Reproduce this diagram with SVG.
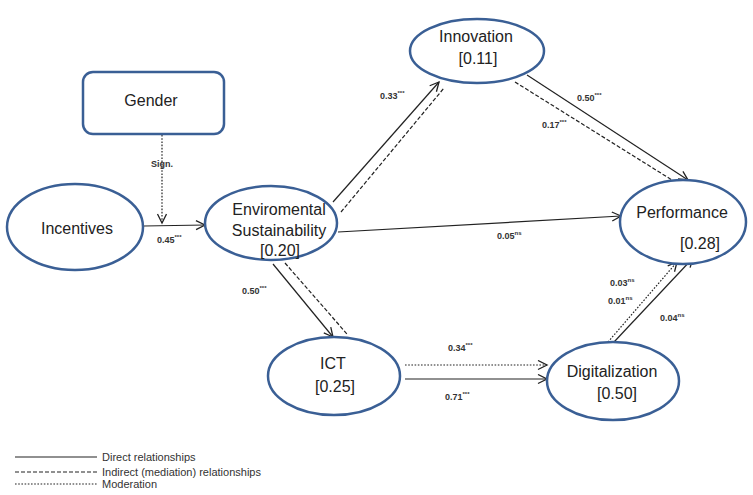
<svg xmlns="http://www.w3.org/2000/svg" width="753" height="495" viewBox="0 0 753 495">
<defs>
<marker id="arr" markerWidth="12" markerHeight="12" refX="10" refY="5" orient="auto" markerUnits="userSpaceOnUse">
<path d="M1,0.5 L10,5 L1,9.5" fill="none" stroke="#222" stroke-width="1.3"/>
</marker>
</defs>
<style>
.node{fill:#fff;stroke:#3a5f95;stroke-width:2.5}
.nt{font-family:"Liberation Sans",Arial,sans-serif;font-size:16px;fill:#222;text-anchor:middle}
.ln{fill:none;stroke:#222;stroke-width:1.2}
.dash{stroke-dasharray:4 2}
.dot{stroke-dasharray:1.6 1.6}
.lb{font-family:"Liberation Sans",Arial,sans-serif;font-size:9px;font-weight:bold;fill:#333}
.sp{font-size:6px}
.lg{font-family:"Liberation Sans",Arial,sans-serif;font-size:11px;fill:#333}
</style>
<rect width="753" height="495" fill="#fff"/>
<g id="connectors">
<line class="ln dot" x1="162" y1="135" x2="162" y2="223" marker-end="url(#arr)"/>
<line class="ln" x1="144" y1="226" x2="205" y2="225" marker-end="url(#arr)"/>
<line class="ln" x1="333" y1="202" x2="439" y2="82" marker-end="url(#arr)"/>
<line class="ln dash" x1="341" y1="212" x2="444" y2="88"/>
<line class="ln" x1="527" y1="75" x2="688" y2="180" marker-end="url(#arr)"/>
<line class="ln dash" x1="515" y1="82" x2="680" y2="185"/>
<line class="ln" x1="338" y1="232" x2="621" y2="216" marker-end="url(#arr)"/>
<line class="ln" x1="273" y1="264" x2="333" y2="337" marker-end="url(#arr)"/>
<line class="ln dash" x1="285" y1="263" x2="347" y2="334"/>
<line class="ln dot" x1="405" y1="365" x2="547" y2="365" marker-end="url(#arr)"/>
<line class="ln" x1="405" y1="379" x2="547" y2="379" marker-end="url(#arr)"/>
<line class="ln dot" x1="608" y1="342" x2="677" y2="262" marker-end="url(#arr)"/>
<line class="ln" x1="614" y1="342" x2="693" y2="258" marker-end="url(#arr)"/>
<text class="lb" x="162" y="167" text-anchor="middle" font-size="8">Sign.</text>
<text class="lb" x="157" y="243">0.45<tspan class="sp" dy="-4">***</tspan></text>
<text class="lb" x="380" y="99">0.33<tspan class="sp" dy="-4">***</tspan></text>
<text class="lb" x="577" y="101">0.50<tspan class="sp" dy="-4">***</tspan></text>
<text class="lb" x="542" y="128">0.17<tspan class="sp" dy="-4">***</tspan></text>
<text class="lb" x="497" y="239">0.05<tspan class="sp" dy="-4">ns</tspan></text>
<text class="lb" x="242" y="294">0.50<tspan class="sp" dy="-4">***</tspan></text>
<text class="lb" x="448" y="351">0.34<tspan class="sp" dy="-4">***</tspan></text>
<text class="lb" x="445" y="400">0.71<tspan class="sp" dy="-4">***</tspan></text>
<text class="lb" x="610" y="286">0.03<tspan class="sp" dy="-4">ns</tspan></text>
<text class="lb" x="608" y="304">0.01<tspan class="sp" dy="-4">ns</tspan></text>
<text class="lb" x="660" y="321">0.04<tspan class="sp" dy="-4">ns</tspan></text>
</g>
<g id="gender">
<rect class="node" x="83" y="72" width="141" height="62" rx="10"/>
<text class="nt" x="151" y="106" font-size="21">Gender</text>
</g>
<g id="incentives">
<ellipse class="node" cx="75" cy="227" rx="68" ry="43"/>
<text class="nt" x="77" y="234">Incentives</text>
</g>
<g id="environmental">
<ellipse class="node" cx="271" cy="223" rx="66" ry="37"/>
<text class="nt" x="279" y="215">Enviromental</text>
<text class="nt" x="279" y="236">Sustainability</text>
<text class="nt" x="280" y="256">[0.20]</text>
</g>
<g id="innovation">
<ellipse class="node" cx="477" cy="51" rx="67" ry="32"/>
<text class="nt" x="476" y="42">Innovation</text>
<text class="nt" x="478" y="64">[0.11]</text>
</g>
<g id="performance">
<ellipse class="node" cx="683" cy="222" rx="63" ry="42"/>
<text class="nt" x="682" y="218">Performance</text>
<text class="nt" x="700" y="249">[0.28]</text>
</g>
<g id="ict">
<ellipse class="node" cx="334" cy="376" rx="66" ry="39"/>
<text class="nt" x="333" y="369">ICT</text>
<text class="nt" x="335" y="392">[0.25]</text>
</g>
<g id="digitalization">
<ellipse class="node" cx="613" cy="381" rx="66" ry="39"/>
<text class="nt" x="612" y="377">Digitalization</text>
<text class="nt" x="617" y="399">[0.50]</text>
</g>
<g id="legend">
<line class="ln" x1="15" y1="457" x2="97" y2="457" stroke-width="1"/>
<text class="lg" x="102" y="461">Direct relationships</text>
<line class="ln dash" x1="15" y1="472" x2="97" y2="472" stroke-width="1"/>
<text class="lg" x="102" y="476">Indirect (mediation) relationships</text>
<line class="ln dot" x1="15" y1="484" x2="97" y2="484" stroke-width="1"/>
<text class="lg" x="102" y="488">Moderation</text>
</g>
</svg>
